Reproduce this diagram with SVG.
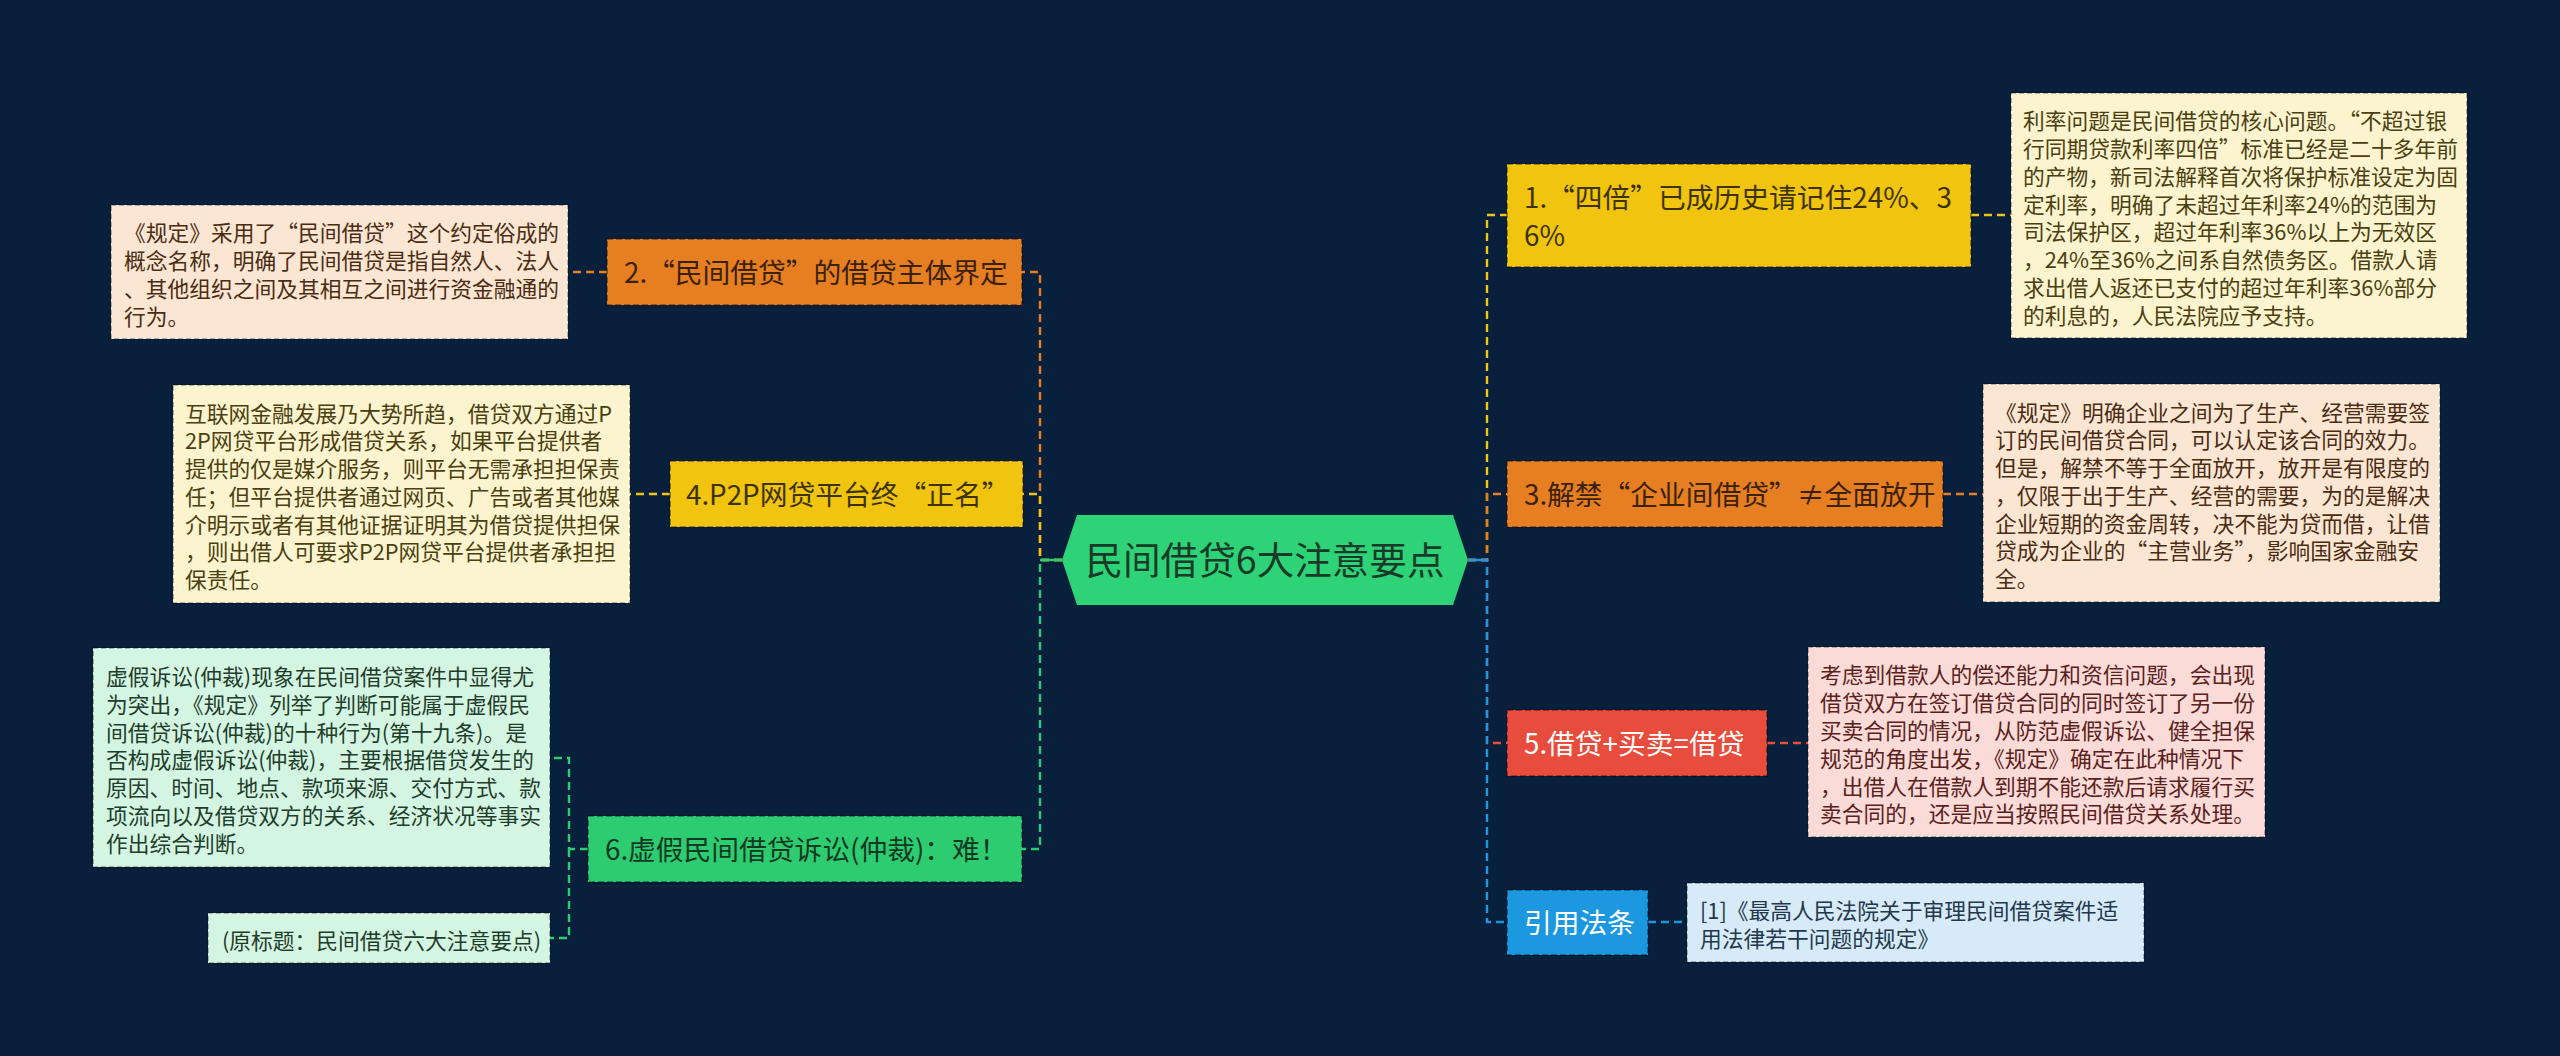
<svg xmlns="http://www.w3.org/2000/svg" width="2560" height="1056" viewBox="0 0 2560 1056">
<style>
text{font-family:"Noto Sans CJK SC","Liberation Sans",sans-serif;}
.leaf{font-size:21.75px;}
.topic{font-size:27.76px;}
.center{font-size:37.6px;}
.box{stroke:rgba(0,0,0,0.45);stroke-width:1.6;stroke-dasharray:6 3;}
.lbox{stroke:rgba(0,0,0,0.35);stroke-width:1.6;stroke-dasharray:5 3;}
.c{fill:none;stroke-width:2.4;stroke-dasharray:8 5;}
.or{stroke:#e67e22}.ye{stroke:#f1c40f}.gr{stroke:#2ecc71}.rd{stroke:#e74c3c}.bl{stroke:#1b98e0}
</style>
<rect x="0" y="0" width="2560" height="1056" fill="#08203c"/>

<g id="connectors">
  <path class="c or" d="M1062 560 H1040 V272 H1022"/>
  <path class="c ye" d="M1062 560 H1040 V494 H1023"/>
  <path class="c gr" d="M1062 560 H1040 V849 H1022"/>
  <line x1="1040" y1="560" x2="1062" y2="560" stroke="#2ecc71" stroke-width="2.4"/>
  <path class="c ye" d="M1468 560 H1487 V215 H1507"/>
  <path class="c or" d="M1468 560 H1487 V494 H1507"/>
  <path class="c rd" d="M1468 560 H1487 V743 H1507"/>
  <path class="c bl" d="M1468 560 H1487 V922 H1507"/>
  <line x1="1468" y1="560" x2="1487" y2="560" stroke="#1b98e0" stroke-width="2.4"/>
  <path class="c or" d="M607 272 H568"/>
  <path class="c ye" d="M670 494 H630"/>
  <path class="c gr" d="M588 849 H569 V758 H550"/>
  <path class="c gr" d="M569 849 V938 H550"/>
  <path class="c ye" d="M1971 215 H2011"/>
  <path class="c or" d="M1943 494 H1983"/>
  <path class="c rd" d="M1767 743 H1808"/>
  <path class="c bl" d="M1648 922 H1687"/>
</g>

<g id="center">
  <polygon points="1062,560 1077,515 1453,515 1468,560 1453,605 1077,605" fill="#2fd377"/>
  <text class="center" x="1265" y="574" text-anchor="middle" fill="#173b28">民间借贷6大注意要点</text>
</g>

<g id="node2">
  <rect class="box" x="607" y="239" width="415" height="66" fill="#e67e22"/>
  <text class="topic" x="624" y="282.5" fill="#3a2108">2.“民间借贷”的借贷主体界定</text>
</g>
<g id="leaf2">
  <rect class="lbox" x="111" y="205" width="457" height="134" fill="#fbe6d4"/>
  <text class="leaf" fill="#4a2c12">
    <tspan x="124" y="241.2">《规定》采用了“民间借贷”这个约定俗成的</tspan>
    <tspan x="124" y="269.0">概念名称，明确了民间借贷是指自然人、法人</tspan>
    <tspan x="124" y="296.7">、其他组织之间及其相互之间进行资金融通的</tspan>
    <tspan x="124" y="324.5">行为。</tspan>
  </text>
</g>

<g id="node4">
  <rect class="box" x="670" y="461" width="353" height="66" fill="#f1c40f"/>
  <text class="topic" x="686" y="504.5" fill="#3d3300">4.P2P网贷平台终“正名”</text>
</g>
<g id="leaf4">
  <rect class="lbox" x="173" y="385" width="457" height="218" fill="#fcf3cf"/>
  <text class="leaf" fill="#4a3f10">
    <tspan x="185" y="421.5">互联网金融发展乃大势所趋，借贷双方通过P</tspan>
    <tspan x="185" y="449.3">2P网贷平台形成借贷关系，如果平台提供者</tspan>
    <tspan x="185" y="477.0">提供的仅是媒介服务，则平台无需承担担保责</tspan>
    <tspan x="185" y="504.8">任；但平台提供者通过网页、广告或者其他媒</tspan>
    <tspan x="185" y="532.6">介明示或者有其他证据证明其为借贷提供担保</tspan>
    <tspan x="185" y="560.3">，则出借人可要求P2P网贷平台提供者承担担</tspan>
    <tspan x="185" y="588.1">保责任。</tspan>
  </text>
</g>

<g id="node6">
  <rect class="box" x="588" y="816" width="434" height="66" fill="#2ecc71"/>
  <text class="topic" x="605" y="859.5" fill="#0f3a21">6.虚假民间借贷诉讼(仲裁)：难！</text>
</g>
<g id="leaf6">
  <rect class="lbox" x="93" y="648" width="457" height="219" fill="#d5f5e3"/>
  <text class="leaf" fill="#1f3d2b">
    <tspan x="106" y="685.0">虚假诉讼(仲裁)现象在民间借贷案件中显得尤</tspan>
    <tspan x="106" y="712.8">为突出，《规定》列举了判断可能属于虚假民</tspan>
    <tspan x="106" y="740.5">间借贷诉讼(仲裁)的十种行为(第十九条)。是</tspan>
    <tspan x="106" y="768.3">否构成虚假诉讼(仲裁)，主要根据借贷发生的</tspan>
    <tspan x="106" y="796.1">原因、时间、地点、款项来源、交付方式、款</tspan>
    <tspan x="106" y="823.8">项流向以及借贷双方的关系、经济状况等事实</tspan>
    <tspan x="106" y="851.6">作出综合判断。</tspan>
  </text>
</g>
<g id="leaf6b">
  <rect class="lbox" x="208" y="913" width="342" height="50" fill="#d5f5e3"/>
  <text class="leaf" x="222" y="948.5" fill="#1f3d2b">(原标题：民间借贷六大注意要点)</text>
</g>

<g id="node1">
  <rect class="box" x="1507" y="164" width="464" height="103" fill="#f1c40f"/>
  <text class="topic" fill="#3d3300">
    <tspan x="1524" y="207.5">1.“四倍”已成历史请记住24%、3</tspan>
    <tspan x="1524" y="245.5">6%</tspan>
  </text>
</g>
<g id="leaf1">
  <rect class="lbox" x="2011" y="93" width="456" height="245" fill="#fcf3cf"/>
  <text class="leaf" fill="#4a3f10">
    <tspan x="2023" y="129.2">利率问题是民间借贷的核心问题。“不超过银</tspan>
    <tspan x="2023" y="157.0">行同期贷款利率四倍”标准已经是二十多年前</tspan>
    <tspan x="2023" y="184.8">的产物，新司法解释首次将保护标准设定为固</tspan>
    <tspan x="2023" y="212.5">定利率，明确了未超过年利率24%的范围为</tspan>
    <tspan x="2023" y="240.3">司法保护区，超过年利率36%以上为无效区</tspan>
    <tspan x="2023" y="268.1">，24%至36%之间系自然债务区。借款人请</tspan>
    <tspan x="2023" y="295.8">求出借人返还已支付的超过年利率36%部分</tspan>
    <tspan x="2023" y="323.6">的利息的，人民法院应予支持。</tspan>
  </text>
</g>

<g id="node3">
  <rect class="box" x="1507" y="461" width="436" height="66" fill="#e67e22"/>
  <text class="topic" x="1524" y="504.5" fill="#3a2108">3.解禁“企业间借贷”≠全面放开</text>
</g>
<g id="leaf3">
  <rect class="lbox" x="1983" y="384" width="457" height="218" fill="#fbe6d4"/>
  <text class="leaf" fill="#4a2c12">
    <tspan x="1995" y="420.5">《规定》明确企业之间为了生产、经营需要签</tspan>
    <tspan x="1995" y="448.3">订的民间借贷合同，可以认定该合同的效力。</tspan>
    <tspan x="1995" y="476.0">但是，解禁不等于全面放开，放开是有限度的</tspan>
    <tspan x="1995" y="503.8">，仅限于出于生产、经营的需要，为的是解决</tspan>
    <tspan x="1995" y="531.6">企业短期的资金周转，决不能为贷而借，让借</tspan>
    <tspan x="1995" y="559.3">贷成为企业的“主营业务”，影响国家金融安</tspan>
    <tspan x="1995" y="587.1">全。</tspan>
  </text>
</g>

<g id="node5">
  <rect class="box" x="1507" y="710" width="260" height="66" fill="#e74c3c"/>
  <text class="topic" x="1524" y="753.5" fill="#ffffff">5.借贷+买卖=借贷</text>
</g>
<g id="leaf5">
  <rect class="lbox" x="1808" y="647" width="457" height="190" fill="#fadbd8"/>
  <text class="leaf" fill="#5a221c">
    <tspan x="1820" y="683.4">考虑到借款人的偿还能力和资信问题，会出现</tspan>
    <tspan x="1820" y="711.2">借贷双方在签订借贷合同的同时签订了另一份</tspan>
    <tspan x="1820" y="738.9">买卖合同的情况，从防范虚假诉讼、健全担保</tspan>
    <tspan x="1820" y="766.7">规范的角度出发，《规定》确定在此种情况下</tspan>
    <tspan x="1820" y="794.5">，出借人在借款人到期不能还款后请求履行买</tspan>
    <tspan x="1820" y="822.2">卖合同的，还是应当按照民间借贷关系处理。</tspan>
  </text>
</g>

<g id="node7">
  <rect class="box" x="1507" y="890" width="141" height="65" fill="#1b98e0"/>
  <text class="topic" x="1524" y="933" fill="#ffffff">引用法条</text>
</g>
<g id="leaf7">
  <rect class="lbox" x="1687" y="883" width="457" height="79" fill="#d6eaf8"/>
  <text class="leaf" fill="#23384d">
    <tspan x="1700" y="918.9">[1]《最高人民法院关于审理民间借贷案件适</tspan>
    <tspan x="1700" y="946.7">用法律若干问题的规定》</tspan>
  </text>
</g>
</svg>
